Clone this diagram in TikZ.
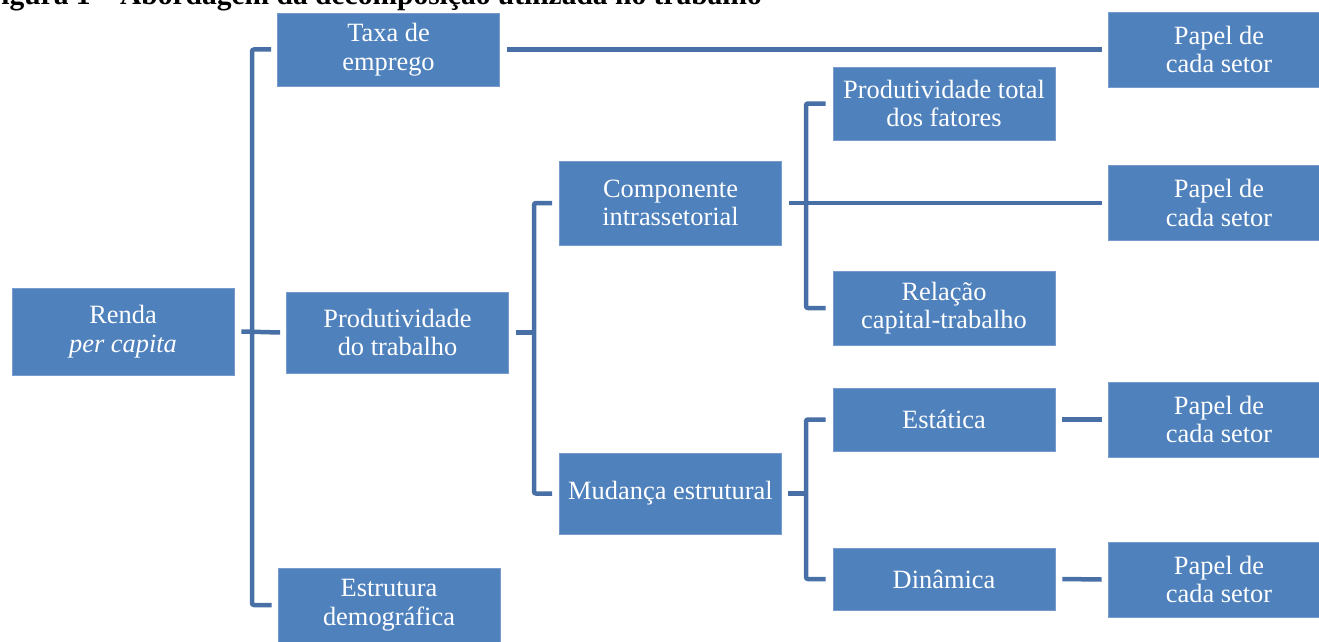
\documentclass[tikz,border=0pt]{standalone}
\usepackage{fontspec}
\setmainfont{Liberation Serif}
\usepackage{xcolor}
\usepackage{tikz}
\usetikzlibrary{positioning}

\definecolor{boxblue}{RGB}{79,129,189}
\definecolor{boxedge}{RGB}{120,155,205}
\definecolor{linkblue}{RGB}{72,112,166}

\begin{document}
\begin{tikzpicture}[
    x=1pt, y=-1pt,
    base/.style={draw=boxedge, fill=boxblue, align=center, text=white, line width=0.8pt,
        font=\fontsize{26.4}{28.5}\selectfont, inner sep=0pt},
    levelbox/.style={base, minimum width=222pt},
    papelbox/.style={base, minimum width=222pt, minimum height=75pt},
    link/.style={draw=linkblue, line width=4.5pt, rounded corners=2pt},
    title/.style={font=\fontsize{29.5}{32}\selectfont\bfseries, anchor=base east, inner sep=0pt}
]
\clip (0,0) rectangle (1319,642);
\node[title] (titulo) at (762,5) {Figura 1 – Abordagem da decomposição utilizada no trabalho};
% level 0 and 1
\node[levelbox, minimum height=87pt] (renda) at (123,331.5) {Renda\\\textit{per capita}};
\node[levelbox, minimum height=73pt] (taxa) at (388.5,49.5) {Taxa de\\emprego};
\node[levelbox, minimum height=81pt] (produtividade) at (397.5,332.5) {Produtividade\\do trabalho};
\node[levelbox, minimum height=74pt] (estrutura) at (389,605) {Estrutura\\demográfica};
% level 2
\node[levelbox, minimum height=84pt] (componente) at (670.5,203) {Componente\\intrassetorial};
\node[levelbox, minimum height=81pt] (mudanca) at (670.5,493.5) {Mudança estrutural};
% level 3
\node[levelbox, minimum height=73pt] (ptf) at (944,103.5) {Produtividade total\\dos fatores};
\node[levelbox, minimum height=74pt] (relacao) at (944,308) {Relação\\capital-trabalho};
\node[levelbox, minimum height=63pt] (estatica) at (944,419.5) {Estática};
\node[levelbox, minimum height=62pt] (dinamica) at (944,579) {Dinâmica};
% papel de cada setor
\node[papelbox] (papeltaxa) at (1219,49.5) {Papel de\\cada setor};
\node[papelbox] (papelcomp) at (1219,203) {Papel de\\cada setor};
\node[papelbox] (papelest) at (1219,419.5) {Papel de\\cada setor};
\node[papelbox] (papeldin) at (1219,579.5) {Papel de\\cada setor};
% spines of the brackets
\coordinate (spinerenda) at (252,331.5);
\coordinate (spineprod) at (534,332.5);
\coordinate (spinecomp) at (806,203);
\coordinate (spinemud) at (806,493.5);
\draw[link] ([xshift=-6pt]taxa.west) -| (spinerenda) |- ([xshift=-6pt]estrutura.west);
\draw[link] ([xshift=7pt]renda.east) -- ([xshift=-6pt]produtividade.west);
\draw[link] ([xshift=7pt]taxa.east) -- ([xshift=-6pt]papeltaxa.west);
\draw[link] ([xshift=-7pt]componente.west) -| (spineprod) |- ([xshift=-7pt]mudanca.west);
\draw[link] ([xshift=7pt]produtividade.east) -- (spineprod);
\draw[link] ([xshift=-7pt]ptf.west) -| (spinecomp) |- ([xshift=-7pt]relacao.west);
\draw[link] ([xshift=7pt]componente.east) -- ([xshift=-6pt]papelcomp.west);
\draw[link] ([xshift=-7pt]estatica.west) -| (spinemud) |- ([xshift=-7pt]dinamica.west);
\draw[link] ([xshift=6pt]mudanca.east) -- (spinemud);
\draw[link] ([xshift=7pt]estatica.east) -- ([xshift=-6pt]papelest.west);
\draw[link] ([xshift=7pt]dinamica.east) -- ([xshift=-6pt]papeldin.west);
\end{tikzpicture}
\end{document}
